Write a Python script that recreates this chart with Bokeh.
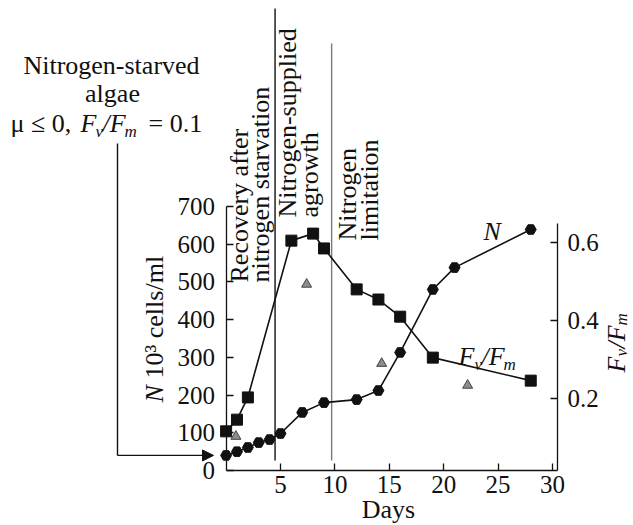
from bokeh.plotting import figure
from bokeh.models import LinearAxis, Range1d, FixedTicker, Label, Arrow, NormalHead
from bokeh.embed import file_html
from bokeh.resources import INLINE

# ---- data ----
days_n = [0, 1, 2, 3, 4, 5, 7, 9, 12, 14, 16, 19, 21, 28]
cells_n = [40, 50, 61, 74, 82, 98, 154, 180, 188, 212, 313, 480, 538, 639]
days_fvfm = [0, 1, 2, 6, 8, 9, 12, 14, 16, 19, 28]
fvfm = [0.115, 0.145, 0.202, 0.604, 0.622, 0.584, 0.479, 0.453, 0.409, 0.304, 0.245]
days_tri = [0.9, 7.4, 14.3, 22.2]
fvfm_tri = [0.102, 0.492, 0.289, 0.233]
phase_bounds = [4.5, 9.7]
x_ticks = [5, 10, 15, 20, 25, 30]
n_ticks = [0, 100, 200, 300, 400, 500, 600, 700]
fvfm_ticks = [0.2, 0.4, 0.6]

FONT = "Liberation Serif"
BLACK = "#111111"
GRAY_LINE = "#7a7a7a"

W, H = 633, 525

# pixel <-> data helpers (used only to place annotations and ranges)
X0_PX, X_SCALE = 225.6, 10.88          # day 0 at px 225.6, 10.88 px per day
Y0_PX, Y_SCALE = 470.0, 264.0 / 700.0  # 0 cells at px 470
FV0, FV_SCALE = 0.0146, 390.0          # Fv/Fm value at px 470, px per unit


def px2x(px):
    return (px - X0_PX) / X_SCALE


def px2y(py):
    return (Y0_PX - py) / Y_SCALE


def px2fv(py):
    return FV0 + (Y0_PX - py) / FV_SCALE


X_AXIS_END = px2x(557)

p = figure(width=W, height=H, output_backend="svg", toolbar_location=None,
           x_range=Range1d(px2x(0), px2x(W)),
           y_range=Range1d(px2y(H), px2y(0)),
           min_border=0, min_border_left=0, min_border_right=0,
           min_border_top=0, min_border_bottom=0,
           background_fill_color="white", border_fill_color="white")
p.outline_line_color = None
p.xgrid.visible = False
p.ygrid.visible = False
p.extra_y_ranges = {"fvfm": Range1d(px2fv(H), px2fv(0))}


def style_axis(ax, standoff):
    ax.major_tick_in = 7
    ax.major_tick_out = 0
    ax.minor_tick_line_color = None
    ax.axis_line_color = BLACK
    ax.major_tick_line_color = BLACK
    ax.axis_line_width = 1.3
    ax.major_tick_line_width = 1.3
    ax.major_label_text_font = FONT
    ax.major_label_text_font_size = "25px"
    ax.major_label_text_color = BLACK
    ax.major_label_standoff = standoff


xa = p.xaxis[0]
xa.ticker = FixedTicker(ticks=x_ticks)
xa.bounds = (0, X_AXIS_END)
xa.fixed_location = 0
style_axis(xa, 5)

ya = p.yaxis[0]
ya.ticker = FixedTicker(ticks=n_ticks)
ya.bounds = (0, 700)
ya.fixed_location = 0
style_axis(ya, 11)

ra = LinearAxis(y_range_name="fvfm", ticker=FixedTicker(ticks=fvfm_ticks),
                bounds=(FV0, 0.648), fixed_location=X_AXIS_END)
style_axis(ra, 10)
p.add_layout(ra, "right")

# phase boundaries
p.segment(x0=phase_bounds, x1=phase_bounds,
          y0=[px2y(460), px2y(460)], y1=[px2y(8), px2y(43)],
          line_color=[BLACK, GRAY_LINE], line_width=1.4)

# N (cells)
p.line(days_n, cells_n, line_color=BLACK, line_width=1.6)
p.scatter(days_n, cells_n, marker="hex", size=11, fill_color=BLACK, line_color=BLACK)

# Fv/Fm
p.line(days_fvfm, fvfm, line_color=BLACK, line_width=1.6, y_range_name="fvfm")
p.scatter(days_fvfm, fvfm, marker="square", size=11, fill_color=BLACK,
          line_color=BLACK, y_range_name="fvfm")
p.scatter(days_tri, fvfm_tri, marker="triangle", size=10, fill_color="#8c8c8c",
          line_color="#444444", y_range_name="fvfm")

ROT = 3.14159265 / 2
BASE_SHIFT = 0.34  # measured offset of rendered glyph baseline below anchor (x size)


def lab(text, px, py, size=26, italic=False, align="left", angle=0.0):
    """px, py: desired glyph baseline position in picture pixels."""
    shift = BASE_SHIFT * size
    if angle:
        px = px - shift
    else:
        py = py - shift
    p.add_layout(Label(x=px2x(px), y=px2y(py), text=text, text_font=FONT,
                       text_font_size=f"{size}px",
                       text_font_style="italic" if italic else "normal",
                       text_align=align, text_baseline="alphabetic",
                       angle=angle, text_color=BLACK))


# phase labels
lab("Recovery after", 248, 282, angle=ROT)
lab("nitrogen starvation", 269, 282, angle=ROT)
lab("Nitrogen-supplied", 296, 217, angle=ROT)
lab("agrowth", 318, 217, angle=ROT)
lab("Nitrogen", 356, 240, angle=ROT)
lab("limitation", 378, 240, angle=ROT)

# series labels
lab("N", 483, 240, italic=True)
lab("F", 458, 365, italic=True)
lab("v", 474, 370, size=17, italic=True)
lab("/F", 481, 365, italic=True)
lab("m", 503, 370, size=17, italic=True)

# left axis title (rotated)
lab("N", 163, 402, italic=True, angle=ROT)
lab("10\u00b3 cells/ml", 163, 378, angle=ROT)

# right axis title (rotated)
lab("F", 625, 372, italic=True, angle=ROT)
lab("v", 627, 356, size=17, italic=True, angle=ROT)
lab("/F", 625, 348, italic=True, angle=ROT)
lab("m", 627, 325, size=17, italic=True, angle=ROT)

# x axis title
lab("Days", 388, 518, align="center")

# starved algae note
lab("Nitrogen-starved", 111, 74, align="center")
lab("algae", 112, 102, align="center")
lab("\u03bc \u2264 0,", 10, 132)
lab("F", 80, 132, italic=True)
lab("v", 95, 137, size=17, italic=True)
lab("/F", 102, 132, italic=True)
lab("m", 124, 137, size=17, italic=True)
lab("= 0.1", 148, 132)

# arrow from the note to the first N point
p.add_layout(Arrow(x_start=px2x(117), y_start=px2y(143), x_end=px2x(117),
                   y_end=cells_n[0], end=None, line_color=BLACK, line_width=1.4))
p.add_layout(Arrow(x_start=px2x(117), y_start=cells_n[0], x_end=px2x(213),
                   y_end=cells_n[0],
                   end=NormalHead(size=11, fill_color=BLACK, line_color=BLACK),
                   line_color=BLACK, line_width=1.4))

open("out.html", "w").write(file_html(p, INLINE))
